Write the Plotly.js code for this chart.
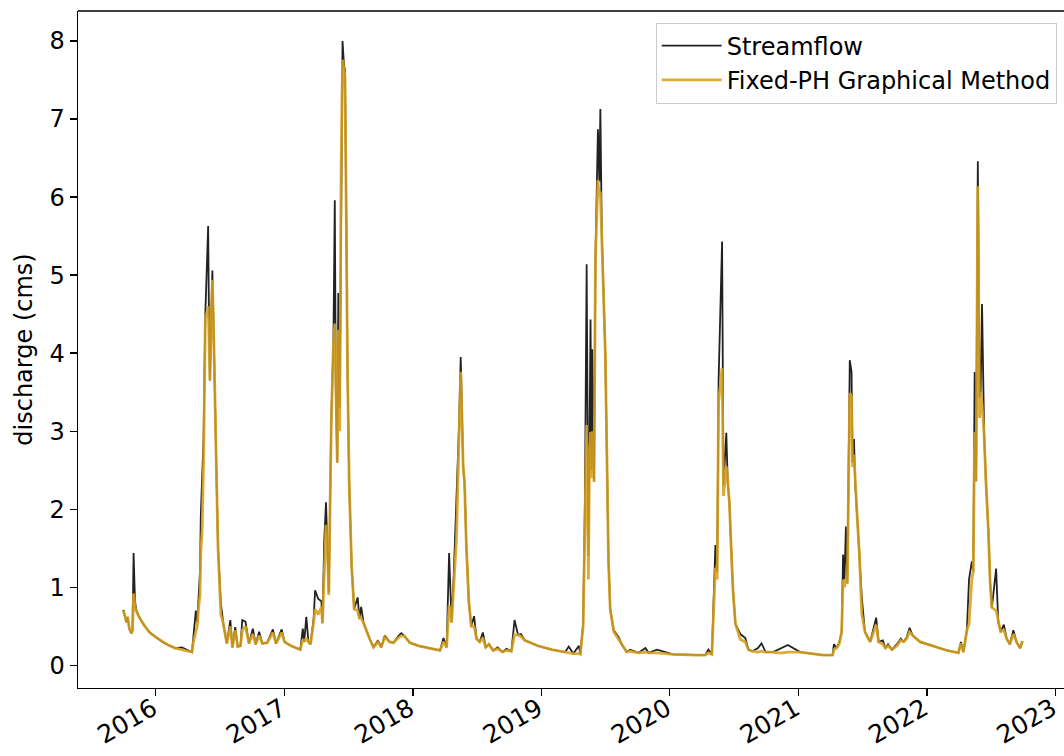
<!DOCTYPE html>
<html>
<head>
<meta charset="utf-8">
<script src="https://cdn.plot.ly/plotly-3.0.1.min.js"></script>
<style>html,body{margin:0;padding:0;background:#fff;}#chart{width:1064px;height:756px;}</style>
</head>
<body>
<div id="chart"></div>
<script>
const dates = [
'2015-10-01','2015-10-06','2015-10-10','2015-10-13','2015-10-18','2015-10-24','2015-10-27','2015-10-30','2015-11-01','2015-11-03',
'2015-11-06','2015-11-12','2015-11-21','2015-12-01','2015-12-15','2016-01-01','2016-01-20','2016-02-05','2016-02-25','2016-03-15',
'2016-04-01','2016-04-13','2016-04-17','2016-04-24','2016-04-28','2016-05-02','2016-05-06','2016-05-08','2016-05-12','2016-05-16',
'2016-05-21','2016-05-27','2016-05-29','2016-05-31','2016-06-03','2016-06-07','2016-06-10','2016-06-14','2016-06-17','2016-06-22',
'2016-06-26','2016-06-30','2016-07-04','2016-07-11','2016-07-21','2016-07-31','2016-08-06','2016-08-14','2016-08-21','2016-08-29',
'2016-09-03','2016-09-12','2016-09-22','2016-10-03','2016-10-11','2016-10-21','2016-10-30','2016-11-13','2016-11-29','2016-12-08',
'2016-12-24','2017-01-01','2017-01-19','2017-02-15','2017-02-22','2017-02-26','2017-03-04','2017-03-10','2017-03-16','2017-03-25',
'2017-03-29','2017-04-07','2017-04-16','2017-04-19','2017-04-24','2017-04-29','2017-05-03','2017-05-07','2017-05-14','2017-05-20',
'2017-05-24','2017-05-27','2017-05-31','2017-06-03','2017-06-07','2017-06-11','2017-06-15','2017-06-19','2017-06-22','2017-06-26',
'2017-06-29','2017-07-04','2017-07-11','2017-07-18','2017-07-28','2017-08-02','2017-08-07','2017-08-14','2017-08-21','2017-08-31',
'2017-09-11','2017-09-24','2017-10-03','2017-10-13','2017-10-27','2017-11-07','2017-11-20','2017-11-29','2017-12-09','2017-12-23',
'2018-01-17','2018-02-24','2018-03-19','2018-03-29','2018-04-07','2018-04-14','2018-04-21','2018-04-27','2018-05-05','2018-05-12',
'2018-05-17','2018-05-24','2018-05-28','2018-06-02','2018-06-09','2018-06-16','2018-06-24','2018-07-01','2018-07-10','2018-07-19',
'2018-07-27','2018-08-05','2018-08-17','2018-08-30','2018-09-13','2018-09-24','2018-10-08','2018-10-17','2018-10-27','2018-11-04',
'2018-11-15','2018-12-22','2019-01-31','2019-03-10','2019-03-20','2019-04-02','2019-04-18','2019-04-22','2019-04-30','2019-05-05',
'2019-05-10','2019-05-15','2019-05-18','2019-05-21','2019-05-24','2019-05-26','2019-05-29','2019-05-31','2019-06-04','2019-06-11',
'2019-06-15','2019-06-18','2019-06-22','2019-06-27','2019-07-02','2019-07-07','2019-07-11','2019-07-16','2019-07-26','2019-08-09',
'2019-08-19','2019-09-01','2019-09-11','2019-10-05','2019-10-24','2019-11-02','2019-11-26','2020-01-11','2020-03-18','2020-04-11',
'2020-04-20','2020-04-30','2020-05-10','2020-05-15','2020-05-19','2020-05-24','2020-05-29','2020-06-02','2020-06-10','2020-06-14',
'2020-06-19','2020-06-23','2020-06-29','2020-07-06','2020-07-20','2020-08-03','2020-08-12','2020-08-23','2020-09-08','2020-09-18',
'2020-09-30','2020-10-21','2020-11-03','2020-11-16','2020-12-02','2021-01-06','2021-03-12','2021-04-08','2021-04-12','2021-04-19',
'2021-04-27','2021-05-04','2021-05-08','2021-05-12','2021-05-16','2021-05-20','2021-05-24','2021-05-27','2021-06-01','2021-06-04',
'2021-06-08','2021-06-11','2021-06-17','2021-06-23','2021-06-30','2021-07-09','2021-07-24','2021-08-10','2021-08-17','2021-08-29',
'2021-09-05','2021-09-13','2021-09-24','2021-10-08','2021-10-19','2021-10-27','2021-11-05','2021-11-13','2021-11-22','2021-12-13',
'2022-01-20','2022-02-27','2022-04-01','2022-04-08','2022-04-15','2022-04-25','2022-05-01','2022-05-09','2022-05-13','2022-05-17',
'2022-05-21','2022-05-26','2022-05-31','2022-06-03','2022-06-07','2022-06-13','2022-06-18','2022-06-25','2022-06-30','2022-07-05',
'2022-07-17','2022-07-23','2022-07-30','2022-08-08','2022-08-16','2022-08-25','2022-09-04','2022-09-13','2022-09-23','2022-09-30'
];
const streamflow = [
0.71,0.60,0.55,0.62,0.47,0.41,0.45,1.44,0.85,0.83,
0.72,0.64,0.57,0.50,0.42,0.36,0.30,0.26,0.22,0.23,
0.19,0.17,0.36,0.70,0.55,1.00,1.22,1.90,2.54,2.93,
4.51,5.19,5.63,4.60,3.65,4.50,5.06,4.20,3.31,2.37,
1.52,1.05,0.80,0.54,0.28,0.58,0.23,0.49,0.24,0.25,
0.58,0.56,0.28,0.47,0.27,0.43,0.28,0.29,0.46,0.28,
0.46,0.30,0.25,0.20,0.47,0.30,0.62,0.30,0.27,0.60,
0.96,0.85,0.82,0.54,1.60,2.09,1.60,0.93,3.14,4.12,
5.96,3.50,2.60,4.77,3.30,6.50,8.00,7.70,7.62,5.58,
3.85,2.33,1.26,0.72,0.87,0.60,0.75,0.54,0.45,0.34,
0.23,0.32,0.23,0.38,0.30,0.29,0.37,0.41,0.37,0.29,
0.25,0.21,0.19,0.35,0.23,1.44,0.55,1.15,2.14,3.04,
3.95,2.55,2.33,1.53,0.82,0.50,0.63,0.34,0.30,0.42,
0.23,0.27,0.19,0.23,0.17,0.21,0.18,0.58,0.39,0.40,
0.32,0.25,0.20,0.17,0.24,0.15,0.25,0.14,0.53,2.07,
5.14,1.40,2.80,4.43,2.50,4.05,2.90,2.36,5.20,6.87,
6.20,7.13,5.54,4.87,4.00,2.55,1.35,0.72,0.45,0.36,
0.26,0.17,0.20,0.16,0.22,0.16,0.20,0.14,0.13,0.13,
0.20,0.14,1.54,1.20,3.64,4.50,5.43,2.30,2.98,2.36,
2.07,1.59,0.96,0.53,0.40,0.35,0.20,0.18,0.22,0.28,
0.17,0.17,0.20,0.22,0.26,0.17,0.13,0.13,0.27,0.22,
0.29,0.43,1.42,1.10,1.78,1.05,3.10,3.91,3.76,2.60,
2.90,2.36,1.91,1.46,0.88,0.43,0.30,0.61,0.30,0.32,
0.22,0.27,0.20,0.27,0.34,0.30,0.36,0.48,0.38,0.30,
0.24,0.19,0.16,0.30,0.17,0.45,1.10,1.33,1.20,3.76,
2.36,6.46,3.43,3.50,4.63,2.95,2.36,1.73,1.06,0.74,
1.24,0.56,0.43,0.52,0.34,0.27,0.45,0.30,0.22,0.31
];
const fixedPH = [
0.70,0.60,0.55,0.62,0.47,0.41,0.45,0.92,0.80,0.75,
0.70,0.64,0.57,0.50,0.42,0.36,0.30,0.26,0.22,0.20,
0.19,0.17,0.30,0.45,0.50,0.75,0.90,1.45,1.73,2.60,
4.45,4.55,4.60,4.30,3.65,4.40,4.94,4.20,3.31,2.37,
1.52,1.05,0.65,0.54,0.28,0.50,0.23,0.45,0.24,0.25,
0.45,0.50,0.28,0.40,0.27,0.38,0.28,0.29,0.42,0.28,
0.42,0.30,0.25,0.20,0.33,0.30,0.35,0.30,0.27,0.55,
0.72,0.65,0.75,0.54,1.30,1.80,1.50,0.90,3.10,4.10,
4.38,3.30,2.60,4.30,3.00,6.40,7.76,7.65,7.55,5.58,
3.85,2.33,1.26,0.72,0.70,0.60,0.60,0.54,0.45,0.34,
0.23,0.30,0.23,0.36,0.30,0.29,0.35,0.38,0.37,0.29,
0.25,0.21,0.19,0.30,0.23,0.77,0.55,1.00,1.63,2.90,
3.76,2.55,2.33,1.53,0.82,0.50,0.50,0.34,0.30,0.35,
0.23,0.27,0.19,0.21,0.17,0.19,0.18,0.39,0.39,0.37,
0.32,0.25,0.20,0.17,0.16,0.15,0.15,0.14,0.50,1.80,
3.08,1.10,2.70,2.99,2.40,3.00,2.80,2.35,5.20,6.22,
6.00,6.07,5.54,4.87,4.00,2.55,1.35,0.72,0.43,0.33,
0.26,0.17,0.18,0.16,0.17,0.16,0.16,0.14,0.13,0.13,
0.16,0.14,1.25,1.10,3.37,3.60,3.81,2.17,2.55,2.36,
2.07,1.59,0.96,0.53,0.33,0.30,0.20,0.18,0.17,0.18,
0.17,0.17,0.16,0.16,0.17,0.17,0.13,0.13,0.20,0.22,
0.27,0.43,1.10,1.00,1.10,1.05,3.04,3.49,3.45,2.54,
2.70,2.36,1.91,1.46,0.66,0.43,0.30,0.52,0.30,0.27,
0.22,0.25,0.20,0.25,0.32,0.30,0.34,0.43,0.38,0.30,
0.24,0.19,0.16,0.28,0.17,0.45,0.53,1.10,1.20,2.99,
2.36,6.14,3.17,3.50,3.35,2.95,2.36,1.73,1.06,0.74,
0.70,0.56,0.43,0.45,0.34,0.27,0.40,0.30,0.22,0.31
];
const seriesNames = ['Streamflow', 'Fixed-PH Graphical Method'];
const yTickVals = [0,1,2,3,4,5,6,7,8];

const FONT = 'DejaVu Sans, sans-serif';
const traces = [
  {x: dates, y: streamflow, type: 'scatter', mode: 'lines', name: seriesNames[0],
   line: {color: '#222222', width: 1.8}},
  {x: dates, y: fixedPH, type: 'scatter', mode: 'lines', name: seriesNames[1],
   line: {color: 'rgba(214,160,30,0.88)', width: 2.8}}
];
const layout = {
  width: 1064, height: 756,
  margin: {l: 78, r: 0, t: 11, b: 68, pad: 0},
  paper_bgcolor: '#ffffff', plot_bgcolor: '#ffffff',
  font: {family: FONT, size: 24, color: '#000000'},
  showlegend: true,
  legend: {x: 0.9926, y: 0.983, xanchor: 'right', yanchor: 'top',
    bgcolor: 'rgba(255,255,255,0.8)', bordercolor: '#cccccc', borderwidth: 1,
    itemwidth: 60,
    font: {family: FONT, size: 24, color: '#000000'}, tracegroupgap: 0},
  xaxis: {type: 'date', range: ['2015-05-25', '2023-01-26'],
    tick0: '2016-01-01', dtick: 'M12', tickformat: '%Y', tickangle: -30,
    ticklabelstandoff: -12, ticklabelshift: -3, ticklabeloverflow: 'allow',
    ticks: 'outside', ticklen: 7, tickwidth: 1.4, tickcolor: '#000',
    showline: true, linecolor: '#000', linewidth: 1.4, mirror: false,
    showgrid: false, zeroline: false,
    tickfont: {family: FONT, size: 25, color: '#000'}},
  yaxis: {range: [-0.291, 8.385], tickvals: yTickVals,
    ticks: 'outside', ticklen: 7, tickwidth: 1.4, tickcolor: '#000',
    showline: true, linecolor: '#000', linewidth: 1.4, mirror: false,
    showgrid: false, zeroline: false,
    tickfont: {family: FONT, size: 24, color: '#000'},
    title: {text: 'discharge (cms)', font: {family: FONT, size: 24, color: '#000'}, standoff: 10}},
  shapes: [{type: 'line', xref: 'paper', yref: 'paper', x0: 0, x1: 1, y0: 1, y1: 1,
    line: {color: '#000', width: 1.4}}]
};
Plotly.newPlot('chart', traces, layout, {displayModeBar: false, staticPlot: true});
</script>
</body>
</html>
